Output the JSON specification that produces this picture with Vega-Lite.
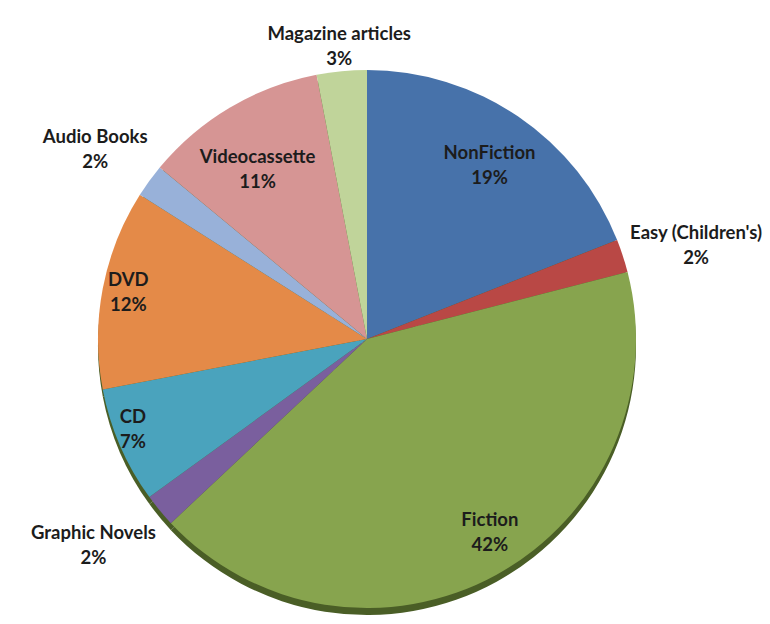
{
  "$schema": "https://vega.github.io/schema/vega-lite/v6.json",
  "autosize": {"type": "none"},
  "width": 700,
  "height": 560,
  "padding": {"left": 17, "top": 59, "right": 53, "bottom": 5},
  "background": "white",
  "view": {"stroke": null},
  "config": {
    "text": {"lineBreak": "\n", "lineHeight": 25, "font": "Lato", "fontSize": 18.5, "fontWeight": "bold", "color": "#1c1c1c", "align": "center", "baseline": "middle"}
  },
  "data": {
    "values": [
      {"cat": "NonFiction", "value": 19, "order": 1, "label": "NonFiction\n19%"},
      {"cat": "Easy (Children's)", "value": 2, "order": 2, "label": "Easy (Children's)\n2%"},
      {"cat": "Fiction", "value": 42, "order": 3, "label": "Fiction\n42%"},
      {"cat": "Graphic Novels", "value": 2, "order": 4, "label": "Graphic Novels\n2%"},
      {"cat": "CD", "value": 7, "order": 5, "label": "CD\n7%"},
      {"cat": "DVD", "value": 12, "order": 6, "label": "DVD\n12%"},
      {"cat": "Audio Books", "value": 2, "order": 7, "label": "Audio Books\n2%"},
      {"cat": "Videocassette", "value": 11, "order": 8, "label": "Videocassette\n11%"},
      {"cat": "Magazine articles", "value": 3, "order": 9, "label": "Magazine articles\n3%"}
    ]
  },
  "encoding": {
    "theta": {"field": "value", "type": "quantitative", "stack": true},
    "order": {"field": "order", "type": "quantitative", "sort": "ascending"}
  },
  "layer": [
    {
      "mark": {"type": "arc", "outerRadius": 269, "yOffset": 7, "color": "#4a5e26", "stroke": null}
    },
    {
      "mark": {"type": "arc", "outerRadius": 269, "stroke": null},
      "encoding": {
        "color": {
          "field": "cat",
          "type": "nominal",
          "legend": null,
          "scale": {
            "domain": ["NonFiction", "Easy (Children's)", "Fiction", "Graphic Novels", "CD", "DVD", "Audio Books", "Videocassette", "Magazine articles"],
            "range": ["#4772aa", "#b94845", "#87a44e", "#7a5f9e", "#4aa3bd", "#e48a48", "#98b1d9", "#d69594", "#c0d49a"]
          }
        }
      }
    },
    {
      "mark": {"type": "text", "radius": 218, "dy": -6},
      "encoding": {"text": {"condition": {"test": "datum.cat == 'NonFiction'", "field": "label"}, "value": ""}}
    },
    {
      "mark": {"type": "text", "radius": 346, "dy": 1},
      "encoding": {"text": {"condition": {"test": "datum.cat == 'Easy (Children\\'s)'", "field": "label"}, "value": ""}}
    },
    {
      "mark": {"type": "text", "radius": 255, "dy": -42},
      "encoding": {"text": {"condition": {"test": "datum.cat == 'Fiction'", "field": "label"}, "value": ""}}
    },
    {
      "mark": {"type": "text", "radius": 355, "dy": -32},
      "encoding": {"text": {"condition": {"test": "datum.cat == 'Graphic Novels'", "field": "label"}, "value": ""}}
    },
    {
      "mark": {"type": "text", "radius": 255, "dy": -23},
      "encoding": {"text": {"condition": {"test": "datum.cat == 'CD'", "field": "label"}, "value": ""}}
    },
    {
      "mark": {"type": "text", "radius": 243, "dy": -13},
      "encoding": {"text": {"condition": {"test": "datum.cat == 'DVD'", "field": "label"}, "value": ""}}
    },
    {
      "mark": {"type": "text", "radius": 336, "dy": -5},
      "encoding": {"text": {"condition": {"test": "datum.cat == 'Audio Books'", "field": "label"}, "value": ""}}
    },
    {
      "mark": {"type": "text", "radius": 215, "dy": 3},
      "encoding": {"text": {"condition": {"test": "datum.cat == 'Videocassette'", "field": "label"}, "value": ""}}
    },
    {
      "mark": {"type": "text", "radius": 295, "dy": -11},
      "encoding": {"text": {"condition": {"test": "datum.cat == 'Magazine articles'", "field": "label"}, "value": ""}}
    }
  ]
}
